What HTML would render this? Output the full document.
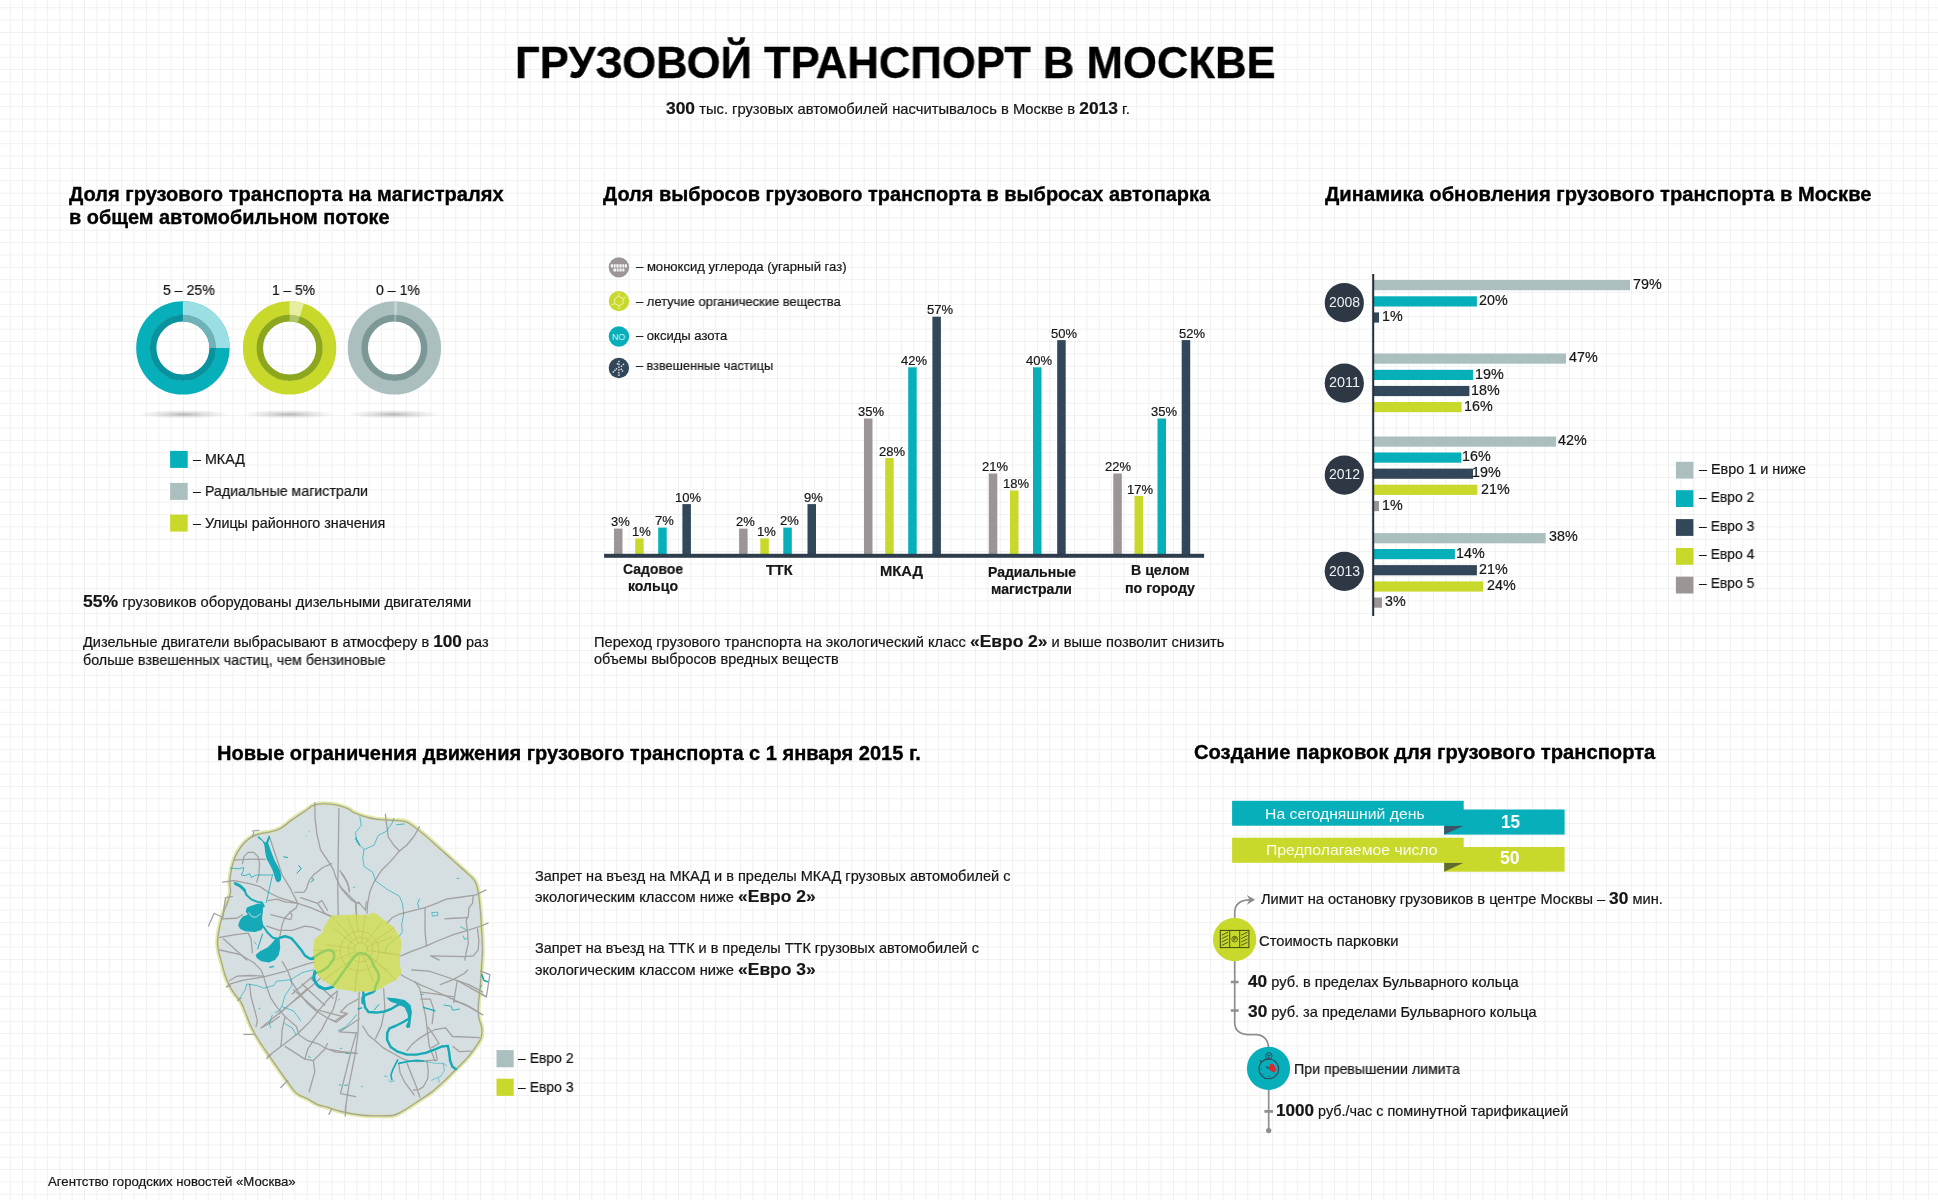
<!DOCTYPE html>
<html lang="ru">
<head>
<meta charset="utf-8">
<title>Грузовой транспорт в Москве</title>
<style>
html,body{margin:0;padding:0;background:#fff;}
body{width:1938px;height:1200px;overflow:hidden;font-family:"Liberation Sans",sans-serif;color:#161616;}
#page{position:relative;width:1938px;height:1200px;overflow:hidden;background-color:#fff;
background-image:linear-gradient(to right,#f0f0f0 0,#f0f0f0 1.2px,transparent 1.2px),linear-gradient(to bottom,#f0f0f0 0,#f0f0f0 1.2px,transparent 1.2px);
background-size:12.387px 12.362px;background-position:9.8px 7.3px;}
.t{position:absolute;white-space:nowrap;line-height:20px;transform-origin:0 50%;will-change:transform;}
.t b{font-weight:bold;}
.h{-webkit-text-stroke:0.35px #000;}
.n{-webkit-text-stroke:0.2px #161616;}
.abs{position:absolute;}
svg{position:absolute;left:0;top:0;overflow:visible;}
</style>
</head>
<body>
<div id="page">
<svg width="1938" height="1200" viewBox="0 0 1938 1200"><defs><radialGradient id="sh"><stop offset="0" stop-color="#000" stop-opacity="0.28"/><stop offset="0.45" stop-color="#000" stop-opacity="0.12"/><stop offset="1" stop-color="#000" stop-opacity="0"/></radialGradient></defs><ellipse cx="184" cy="414.3" rx="46" ry="4.4" fill="url(#sh)"/><ellipse cx="288.6" cy="414.3" rx="46" ry="4.4" fill="url(#sh)"/><ellipse cx="393.8" cy="414.3" rx="46" ry="4.4" fill="url(#sh)"/><g transform="translate(182.9 347.9) rotate(-90)" fill="none"><circle r="39.75" stroke="#06afba" stroke-width="13.90"/><circle r="29.80" stroke="#07929d" stroke-width="6.60"/><circle r="39.75" stroke="#9bdfe4" stroke-width="13.90" stroke-dasharray="62.44 249.76"/><circle r="29.80" stroke="#6fb3b9" stroke-width="6.60" stroke-dasharray="46.81 187.24"/></g><g transform="translate(289.6 347.9) rotate(-90)" fill="none"><circle r="39.75" stroke="#c8d92b" stroke-width="13.90"/><circle r="29.80" stroke="#8ca71d" stroke-width="6.60"/><circle r="39.75" stroke="#e6eea0" stroke-width="13.90" stroke-dasharray="12.49 249.76"/><circle r="29.80" stroke="#b3c56a" stroke-width="6.60" stroke-dasharray="9.36 187.24"/></g><g transform="translate(394.4 347.9) rotate(-90)" fill="none"><circle r="39.75" stroke="#abbfbf" stroke-width="13.90"/><circle r="29.80" stroke="#7b9796" stroke-width="6.60"/><circle r="39.75" stroke="#c9d6d6" stroke-width="13.90" stroke-dasharray="2.50 249.76"/><circle r="29.80" stroke="#9fb5b4" stroke-width="6.60" stroke-dasharray="1.87 187.24"/></g><rect x="170.1" y="450.9" width="17.6" height="17" fill="#06afba"/><rect x="170.1" y="482.9" width="17.6" height="17" fill="#abbfbf"/><rect x="170.1" y="514.6" width="17.6" height="17" fill="#c8d92b"/></svg>
<svg width="1938" height="1200" viewBox="0 0 1938 1200"><rect x="614.0" y="528.6" width="8.5" height="26.4" fill="#9b9595"/><rect x="635.2" y="538.4" width="8.5" height="16.6" fill="#c8d92b"/><rect x="658.2" y="527.6" width="8.5" height="27.4" fill="#06afba"/><rect x="682.4" y="504.1" width="8.5" height="50.9" fill="#32475a"/><rect x="739.1" y="528.6" width="8.5" height="26.4" fill="#9b9595"/><rect x="760.3" y="538.4" width="8.5" height="16.6" fill="#c8d92b"/><rect x="783.3" y="527.6" width="8.5" height="27.4" fill="#06afba"/><rect x="807.5" y="504.1" width="8.5" height="50.9" fill="#32475a"/><rect x="864.0" y="418.5" width="8.5" height="136.5" fill="#9b9595"/><rect x="885.2" y="458.0" width="8.5" height="97.0" fill="#c8d92b"/><rect x="908.2" y="367.3" width="8.5" height="187.7" fill="#06afba"/><rect x="932.4" y="316.7" width="8.5" height="238.3" fill="#32475a"/><rect x="988.8" y="473.5" width="8.5" height="81.5" fill="#9b9595"/><rect x="1010.0" y="490.5" width="8.5" height="64.5" fill="#c8d92b"/><rect x="1033.0" y="367.3" width="8.5" height="187.7" fill="#06afba"/><rect x="1057.2" y="340.1" width="8.5" height="214.9" fill="#32475a"/><rect x="1113.3" y="473.5" width="8.5" height="81.5" fill="#9b9595"/><rect x="1134.5" y="495.9" width="8.5" height="59.1" fill="#c8d92b"/><rect x="1157.5" y="418.5" width="8.5" height="136.5" fill="#06afba"/><rect x="1181.7" y="340.1" width="8.5" height="214.9" fill="#32475a"/><rect x="604.1" y="553.8" width="600" height="4" fill="#2e3d4b"/><circle cx="618.9" cy="267.4" r="10.2" fill="#9b9595"/><circle cx="618.9" cy="301.1" r="10.2" fill="#c8d92b"/><circle cx="618.9" cy="336.5" r="10.2" fill="#06afba"/><circle cx="618.9" cy="368.0" r="10.2" fill="#32475a"/><g fill="#fff" opacity="0.9"><rect x="610.8" y="264.2" width="16.2" height="3.2" rx="0.6"/><rect x="613.4" y="268.6" width="11" height="3" rx="0.6"/></g><g stroke="#9b9595" stroke-width="0.7"><path d="M613.5 264v4M616 264v4M619 264v8M622 264v8M624.5 264v4M616.5 268v4"/></g><g stroke="#f1f5b8" stroke-width="0.9" fill="none"><polygon points="623.1,303.5 618.9,305.9 614.7,303.5 614.7,298.7 618.9,296.3 623.1,298.7"/><path d="M623.1 298.7L626.1 297.0"/><path d="M618.9 305.9L618.9 309.4"/><path d="M614.7 303.5L611.7 305.2"/><path d="M618.9 296.3L618.9 292.8"/></g><g fill="#e9eef2"><rect x="618.2" y="360.8" width="1.4" height="1.4"/><rect x="618.2" y="363.7" width="1.4" height="1.4"/><rect x="618.2" y="366.5" width="1.4" height="1.4"/><rect x="618.2" y="369.3" width="1.4" height="1.4"/><rect x="618.2" y="372.1" width="1.4" height="1.4"/><rect x="618.2" y="374.5" width="1.4" height="1.4"/><rect x="620.8" y="365.5" width="1.4" height="1.4"/><rect x="622.8" y="363.7" width="1.4" height="1.4"/><rect x="620.6" y="368.5" width="1.4" height="1.4"/><rect x="615.8" y="368.1" width="1.4" height="1.4"/><rect x="614.2" y="369.7" width="1.4" height="1.4"/><rect x="612.6" y="371.3" width="1.4" height="1.4"/><rect x="616.8" y="363.1" width="1.4" height="1.4"/><rect x="621.8" y="370.3" width="1.4" height="1.4"/></g></svg>
<svg width="1938" height="1200" viewBox="0 0 1938 1200"><rect x="1374.0" y="280.0" width="256.0" height="10.2" fill="#abbfbf"/><rect x="1374.0" y="296.3" width="102.9" height="10.2" fill="#06afba"/><rect x="1374.0" y="312.4" width="5.0" height="10.2" fill="#32475a"/><rect x="1374.0" y="353.5" width="192.0" height="10.2" fill="#abbfbf"/><rect x="1374.0" y="369.8" width="99.0" height="10.2" fill="#06afba"/><rect x="1374.0" y="385.9" width="95.4" height="10.2" fill="#32475a"/><rect x="1374.0" y="402.0" width="87.6" height="10.2" fill="#c8d92b"/><rect x="1374.0" y="436.5" width="182.1" height="10.2" fill="#abbfbf"/><rect x="1374.0" y="452.5" width="87.4" height="10.2" fill="#06afba"/><rect x="1374.0" y="468.6" width="99.0" height="10.2" fill="#32475a"/><rect x="1374.0" y="484.7" width="103.3" height="10.2" fill="#c8d92b"/><rect x="1374.0" y="501.0" width="5.0" height="10.2" fill="#9b9595"/><rect x="1374.0" y="533.1" width="171.7" height="10.2" fill="#abbfbf"/><rect x="1374.0" y="549.0" width="80.9" height="10.2" fill="#06afba"/><rect x="1374.0" y="565.1" width="102.9" height="10.2" fill="#32475a"/><rect x="1374.0" y="581.4" width="109.1" height="10.2" fill="#c8d92b"/><rect x="1374.0" y="597.5" width="8.0" height="10.2" fill="#9b9595"/><rect x="1372.2" y="274" width="2" height="342" fill="#232f3a"/><circle cx="1344.3" cy="302.7" r="19.6" fill="#2d3844"/><circle cx="1344.3" cy="383.2" r="19.6" fill="#2d3844"/><circle cx="1344.3" cy="475.1" r="19.6" fill="#2d3844"/><circle cx="1344.3" cy="571.3" r="19.6" fill="#2d3844"/><rect x="1675.9" y="461.8" width="17.5" height="16.8" fill="#abbfbf"/><rect x="1675.9" y="490.2" width="17.5" height="16.8" fill="#06afba"/><rect x="1675.9" y="519.1" width="17.5" height="16.8" fill="#32475a"/><rect x="1675.9" y="548.0" width="17.5" height="16.8" fill="#c8d92b"/><rect x="1675.9" y="576.7" width="17.5" height="16.8" fill="#9b9595"/></svg>
<svg width="1938" height="1200" viewBox="0 0 1938 1200"><rect x="1444.2" y="809.5" width="120.4" height="25.1" fill="#06afba"/><polygon points="1444.2,825.7 1463.7,825.7 1444.2,834.6" fill="#3b5467"/><rect x="1232.1" y="800.8" width="231.6" height="24.9" fill="#06afba"/><rect x="1444.2" y="847" width="120.4" height="24.7" fill="#c8d92b"/><polygon points="1444.2,862.8 1463.7,862.8 1444.2,871.7" fill="#5f6c2c"/><rect x="1232.1" y="837.7" width="231.6" height="25.1" fill="#c8d92b"/><g fill="none" stroke="#8f8f8f" stroke-width="1.7"><path d="M1234.7 919V913C1234.7 904.5 1240 900 1250 899.9"/><path d="M1234.7 960V1022.3C1234.7 1030.5 1239.5 1034.6 1249 1034.6H1256C1263.5 1034.8 1268.5 1040 1268.5 1048"/><path d="M1268.7 1089V1130"/></g><g stroke="#8f8f8f" stroke-width="2.6"><path d="M1230.8 982H1238.6M1230.8 1010.5H1238.6M1264.4 1111.4H1273"/></g><polygon points="1255.2,899.8 1246.8,895 1249.6,899.8 1246.8,904.7" fill="#8f8f8f"/><circle cx="1268.7" cy="1130.6" r="2.7" fill="#8f8f8f"/><circle cx="1234.6" cy="939.5" r="21.7" fill="#c8d92b"/><circle cx="1268.5" cy="1068.4" r="21.6" fill="#06afba"/><g fill="none" stroke="#3d4b14" stroke-width="1"><rect x="1220.3" y="930.4" width="28.6" height="17.2"/><path d="M1229.7 930.4V947.6M1239.7 930.4V947.6"/><path d="M1221.8 935.2L1228.2 932M1221.8 938.6L1228.2 935.4M1221.8 942L1228.2 938.8M1221.8 945.4L1228.2 942.2M1241.2 935.2L1247.6 932M1241.2 938.6L1247.6 935.4M1241.2 942L1247.6 938.8M1241.2 945.4L1247.6 942.2" stroke-width="0.9"/><circle cx="1234.7" cy="939.1" r="2.9" stroke-width="0.7"/><path d="M1233.9 941V937.2H1235.2A1 1 0 0 1 1235.2 939.2H1233.9" stroke-width="0.8"/></g><g fill="none" stroke="#2f4253" stroke-width="1.1"><circle cx="1268.8" cy="1068.8" r="9.9"/><circle cx="1268.8" cy="1055.9" r="3.2" stroke-width="0.9"/><path d="M1267.2 1055.2H1270.4M1268.8 1055.2V1058.6" stroke-width="0.9"/><path d="M1261.2 1061.8L1259.8 1060.4" /><path d="M1268.8 1068.8L1266.4 1066.4" stroke-width="1.3"/><path d="M1268.8 1077V1075.6M1260.6 1068.8H1262M1263 1074.6L1264 1073.6M1274.6 1074.6L1273.6 1073.6" stroke-width="0.8"/></g><path d="M1268.6 1069L1270.3 1063.7L1273.7 1064.3L1276.3 1070L1273.9 1072.8Z" fill="#e3262e"/></svg>
<svg width="1938" height="1200" viewBox="0 0 1938 1200"><defs><clipPath id="mk"><path d="M314.8 804.9C319.6 803.6 325.9 803.6 331.8 804.2C337.7 804.8 343.4 806.9 347.4 808.4C351.4 809.9 350.4 811.0 354.2 812.7C358.0 814.4 363.2 816.3 368.3 817.6C373.4 818.9 377.4 819.3 382.5 819.8C387.6 820.3 392.4 820.1 396.7 820.5C401.0 820.9 403.3 820.6 406.6 821.9C409.9 823.2 411.8 825.2 415.1 827.6C418.4 830.0 420.7 831.7 425.0 835.4C429.3 839.1 434.1 843.5 439.2 848.1C444.3 852.7 448.3 856.3 453.4 860.9C458.5 865.5 463.8 870.0 467.6 873.6C471.4 877.2 472.7 877.4 474.6 880.7C476.5 884.0 477.2 886.6 478.2 892.0C479.2 897.4 479.7 903.4 480.3 910.5C480.9 917.6 481.3 924.6 481.7 931.7C482.1 938.8 482.4 944.1 482.4 950.0C482.4 955.9 482.1 957.8 481.7 964.2C481.3 970.6 480.9 977.8 480.3 985.4C479.7 993.0 478.5 1000.8 478.2 1006.7C477.9 1012.6 478.3 1014.2 478.9 1018.0C479.5 1021.8 481.3 1024.3 481.7 1027.9C482.1 1031.5 482.0 1034.6 481.0 1037.9C480.0 1041.2 478.4 1042.8 476.0 1046.4C473.6 1050.0 471.1 1053.6 467.5 1057.7C463.9 1061.8 460.3 1064.9 456.2 1069.0C452.1 1073.1 449.2 1076.3 444.9 1080.4C440.6 1084.5 436.7 1088.1 432.1 1091.7C427.5 1095.3 424.0 1097.1 419.4 1100.2C414.8 1103.3 411.2 1106.0 406.6 1108.7C402.0 1111.4 398.7 1113.8 393.9 1115.1C389.1 1116.4 385.6 1115.8 379.7 1115.8C373.8 1115.8 368.1 1115.9 361.3 1115.1C354.5 1114.3 347.8 1113.0 341.7 1111.6C335.6 1110.2 331.9 1108.6 327.6 1107.3C323.3 1106.0 321.2 1106.0 317.6 1104.5C314.0 1103.0 311.5 1100.9 307.7 1098.8C303.9 1096.7 300.2 1096.4 296.4 1093.1C292.6 1089.8 290.1 1085.2 286.5 1080.4C282.9 1075.6 280.1 1071.3 276.5 1066.2C272.9 1061.1 269.9 1056.8 266.6 1052.0C263.3 1047.2 260.9 1043.9 258.1 1039.3C255.3 1034.7 253.3 1031.3 251.0 1026.5C248.7 1021.7 247.2 1016.7 245.4 1012.4C243.6 1008.1 243.4 1006.2 241.1 1002.4C238.8 998.6 235.3 995.4 232.6 991.1C229.9 986.8 228.2 983.7 226.2 978.3C224.2 972.9 222.7 966.4 221.3 961.3C219.9 956.2 219.0 953.8 218.4 950.0C217.8 946.2 217.4 944.5 217.7 940.2C218.0 935.9 218.8 930.9 219.8 926.1C220.8 921.3 222.0 917.6 223.4 913.3C224.8 909.0 226.3 905.8 227.6 902.0C228.9 898.2 230.1 895.6 230.5 892.0C230.9 888.4 229.7 885.9 229.8 882.1C229.9 878.3 230.3 875.1 231.2 870.8C232.1 866.5 232.9 862.3 234.7 858.0C236.5 853.7 238.4 850.3 241.1 846.7C243.8 843.1 246.3 840.5 249.6 838.2C252.9 835.9 255.7 835.1 259.5 833.9C263.3 832.7 267.1 832.8 270.9 831.8C274.7 830.8 277.0 830.5 280.8 828.3C284.6 826.1 287.8 822.9 292.1 819.8C296.4 816.7 300.8 814.0 304.9 811.3C309.0 808.6 310.0 806.2 314.8 804.9Z"/></clipPath></defs><path d="M314.8 804.9C319.6 803.6 325.9 803.6 331.8 804.2C337.7 804.8 343.4 806.9 347.4 808.4C351.4 809.9 350.4 811.0 354.2 812.7C358.0 814.4 363.2 816.3 368.3 817.6C373.4 818.9 377.4 819.3 382.5 819.8C387.6 820.3 392.4 820.1 396.7 820.5C401.0 820.9 403.3 820.6 406.6 821.9C409.9 823.2 411.8 825.2 415.1 827.6C418.4 830.0 420.7 831.7 425.0 835.4C429.3 839.1 434.1 843.5 439.2 848.1C444.3 852.7 448.3 856.3 453.4 860.9C458.5 865.5 463.8 870.0 467.6 873.6C471.4 877.2 472.7 877.4 474.6 880.7C476.5 884.0 477.2 886.6 478.2 892.0C479.2 897.4 479.7 903.4 480.3 910.5C480.9 917.6 481.3 924.6 481.7 931.7C482.1 938.8 482.4 944.1 482.4 950.0C482.4 955.9 482.1 957.8 481.7 964.2C481.3 970.6 480.9 977.8 480.3 985.4C479.7 993.0 478.5 1000.8 478.2 1006.7C477.9 1012.6 478.3 1014.2 478.9 1018.0C479.5 1021.8 481.3 1024.3 481.7 1027.9C482.1 1031.5 482.0 1034.6 481.0 1037.9C480.0 1041.2 478.4 1042.8 476.0 1046.4C473.6 1050.0 471.1 1053.6 467.5 1057.7C463.9 1061.8 460.3 1064.9 456.2 1069.0C452.1 1073.1 449.2 1076.3 444.9 1080.4C440.6 1084.5 436.7 1088.1 432.1 1091.7C427.5 1095.3 424.0 1097.1 419.4 1100.2C414.8 1103.3 411.2 1106.0 406.6 1108.7C402.0 1111.4 398.7 1113.8 393.9 1115.1C389.1 1116.4 385.6 1115.8 379.7 1115.8C373.8 1115.8 368.1 1115.9 361.3 1115.1C354.5 1114.3 347.8 1113.0 341.7 1111.6C335.6 1110.2 331.9 1108.6 327.6 1107.3C323.3 1106.0 321.2 1106.0 317.6 1104.5C314.0 1103.0 311.5 1100.9 307.7 1098.8C303.9 1096.7 300.2 1096.4 296.4 1093.1C292.6 1089.8 290.1 1085.2 286.5 1080.4C282.9 1075.6 280.1 1071.3 276.5 1066.2C272.9 1061.1 269.9 1056.8 266.6 1052.0C263.3 1047.2 260.9 1043.9 258.1 1039.3C255.3 1034.7 253.3 1031.3 251.0 1026.5C248.7 1021.7 247.2 1016.7 245.4 1012.4C243.6 1008.1 243.4 1006.2 241.1 1002.4C238.8 998.6 235.3 995.4 232.6 991.1C229.9 986.8 228.2 983.7 226.2 978.3C224.2 972.9 222.7 966.4 221.3 961.3C219.9 956.2 219.0 953.8 218.4 950.0C217.8 946.2 217.4 944.5 217.7 940.2C218.0 935.9 218.8 930.9 219.8 926.1C220.8 921.3 222.0 917.6 223.4 913.3C224.8 909.0 226.3 905.8 227.6 902.0C228.9 898.2 230.1 895.6 230.5 892.0C230.9 888.4 229.7 885.9 229.8 882.1C229.9 878.3 230.3 875.1 231.2 870.8C232.1 866.5 232.9 862.3 234.7 858.0C236.5 853.7 238.4 850.3 241.1 846.7C243.8 843.1 246.3 840.5 249.6 838.2C252.9 835.9 255.7 835.1 259.5 833.9C263.3 832.7 267.1 832.8 270.9 831.8C274.7 830.8 277.0 830.5 280.8 828.3C284.6 826.1 287.8 822.9 292.1 819.8C296.4 816.7 300.8 814.0 304.9 811.3C309.0 808.6 310.0 806.2 314.8 804.9Z" fill="#d5dfe1" stroke="#e3e9b0" stroke-width="5" stroke-linejoin="round"/><path d="M314.8 804.9C319.6 803.6 325.9 803.6 331.8 804.2C337.7 804.8 343.4 806.9 347.4 808.4C351.4 809.9 350.4 811.0 354.2 812.7C358.0 814.4 363.2 816.3 368.3 817.6C373.4 818.9 377.4 819.3 382.5 819.8C387.6 820.3 392.4 820.1 396.7 820.5C401.0 820.9 403.3 820.6 406.6 821.9C409.9 823.2 411.8 825.2 415.1 827.6C418.4 830.0 420.7 831.7 425.0 835.4C429.3 839.1 434.1 843.5 439.2 848.1C444.3 852.7 448.3 856.3 453.4 860.9C458.5 865.5 463.8 870.0 467.6 873.6C471.4 877.2 472.7 877.4 474.6 880.7C476.5 884.0 477.2 886.6 478.2 892.0C479.2 897.4 479.7 903.4 480.3 910.5C480.9 917.6 481.3 924.6 481.7 931.7C482.1 938.8 482.4 944.1 482.4 950.0C482.4 955.9 482.1 957.8 481.7 964.2C481.3 970.6 480.9 977.8 480.3 985.4C479.7 993.0 478.5 1000.8 478.2 1006.7C477.9 1012.6 478.3 1014.2 478.9 1018.0C479.5 1021.8 481.3 1024.3 481.7 1027.9C482.1 1031.5 482.0 1034.6 481.0 1037.9C480.0 1041.2 478.4 1042.8 476.0 1046.4C473.6 1050.0 471.1 1053.6 467.5 1057.7C463.9 1061.8 460.3 1064.9 456.2 1069.0C452.1 1073.1 449.2 1076.3 444.9 1080.4C440.6 1084.5 436.7 1088.1 432.1 1091.7C427.5 1095.3 424.0 1097.1 419.4 1100.2C414.8 1103.3 411.2 1106.0 406.6 1108.7C402.0 1111.4 398.7 1113.8 393.9 1115.1C389.1 1116.4 385.6 1115.8 379.7 1115.8C373.8 1115.8 368.1 1115.9 361.3 1115.1C354.5 1114.3 347.8 1113.0 341.7 1111.6C335.6 1110.2 331.9 1108.6 327.6 1107.3C323.3 1106.0 321.2 1106.0 317.6 1104.5C314.0 1103.0 311.5 1100.9 307.7 1098.8C303.9 1096.7 300.2 1096.4 296.4 1093.1C292.6 1089.8 290.1 1085.2 286.5 1080.4C282.9 1075.6 280.1 1071.3 276.5 1066.2C272.9 1061.1 269.9 1056.8 266.6 1052.0C263.3 1047.2 260.9 1043.9 258.1 1039.3C255.3 1034.7 253.3 1031.3 251.0 1026.5C248.7 1021.7 247.2 1016.7 245.4 1012.4C243.6 1008.1 243.4 1006.2 241.1 1002.4C238.8 998.6 235.3 995.4 232.6 991.1C229.9 986.8 228.2 983.7 226.2 978.3C224.2 972.9 222.7 966.4 221.3 961.3C219.9 956.2 219.0 953.8 218.4 950.0C217.8 946.2 217.4 944.5 217.7 940.2C218.0 935.9 218.8 930.9 219.8 926.1C220.8 921.3 222.0 917.6 223.4 913.3C224.8 909.0 226.3 905.8 227.6 902.0C228.9 898.2 230.1 895.6 230.5 892.0C230.9 888.4 229.7 885.9 229.8 882.1C229.9 878.3 230.3 875.1 231.2 870.8C232.1 866.5 232.9 862.3 234.7 858.0C236.5 853.7 238.4 850.3 241.1 846.7C243.8 843.1 246.3 840.5 249.6 838.2C252.9 835.9 255.7 835.1 259.5 833.9C263.3 832.7 267.1 832.8 270.9 831.8C274.7 830.8 277.0 830.5 280.8 828.3C284.6 826.1 287.8 822.9 292.1 819.8C296.4 816.7 300.8 814.0 304.9 811.3C309.0 808.6 310.0 806.2 314.8 804.9Z" fill="#d5dfe1" stroke="#d5de8c" stroke-width="2.4" stroke-linejoin="round"/><g fill="none" stroke="#a3a0a0" stroke-linejoin="round" stroke-linecap="round"><g transform="translate(200 790) scale(0.14172)" stroke-width="9.03"><path d="M810 90L812 200L825 310L850 420L910 510L940 560L960 620L1000 700L1060 770L1100 795L1105 880"/><path d="M980 130L978 300L975 500L972 700L975 880"/><path d="M490 330L530 450L580 600L640 700L690 800"/><path d="M160 650L240 640L350 660L420 680L480 720L560 760L690 800L780 830L850 860L920 890"/><path d="M690 800L680 830L640 860L600 900L580 950L570 1000L560 1050L555 1100"/><path d="M930 520L870 545L800 600L770 640L750 700L735 720L670 722"/><path d="M240 495L330 490L400 488L460 490"/><path d="M300 520L310 470L340 440L380 440L410 470L420 520L415 600L400 650"/><path d="M60 960L100 870L160 900L180 760L230 750"/><path d="M150 910L260 905L300 880"/><path d="M140 1040L250 1020L340 1010L360 1050L370 1150"/><path d="M165 1050L330 1200"/><path d="M480 780L540 770L600 790L690 800"/><path d="M500 880L580 900L640 915L650 880L630 860"/><path d="M470 960L560 990L650 990L740 960L800 970L850 990"/><path d="M710 760L830 800L880 870L920 890M830 800L860 780L900 850"/><path d="M1000 590L1040 650L1055 710"/><path d="M370 290L415 285M370 330L380 300"/></g><g transform="translate(340 790) scale(0.14172)" stroke-width="9.03"><path d="M320 170L330 250L340 330L380 390L420 430"/><path d="M560 260L520 330L470 390L420 430L360 500L290 570L240 650L210 720L195 800L190 870"/><path d="M1030 705L960 740L860 755L750 770L680 800L600 830L500 855L420 875L370 900L330 940"/><path d="M1045 940L980 965L900 990L800 1020L700 1060L610 1100L500 1140L430 1170"/><path d="M600 830L600 1000L610 1100"/><path d="M940 745L935 800L910 830L905 890L890 920L900 1000L905 1080L890 1150L880 1200"/><path d="M740 910L800 905L900 900"/><path d="M970 980L980 1060L975 1130L940 1170L880 1175L640 1170L700 1200"/><path d="M110 790L115 870M130 790L180 850L185 790"/><path d="M0 570L30 610L60 680L65 720M0 680L60 740L110 790L130 800"/></g><g transform="translate(200 950) scale(0.14172)" stroke-width="9.03"><path d="M190 260L210 240L300 215L450 190L600 150L750 100L810 85"/><path d="M210 215L260 185L360 180L440 185L450 190"/><path d="M140 0L280 30L380 90L430 140L450 190L470 260L500 340L540 400L600 470L680 540L700 600L760 640L830 660L880 690L960 720L1060 725L1110 730"/><path d="M580 80L620 150L650 230L690 290L760 380L820 430L900 480L960 510L1040 450"/><path d="M650 310L790 190M690 340L850 200M560 450L760 270M430 550L700 330"/><path d="M660 280L820 420L1010 470M720 240L880 390M780 200L940 340"/><path d="M480 750L600 660L700 580L780 500L860 400L920 330L970 290"/><path d="M570 970L620 920M470 765L500 740M185 260L215 250M265 355L290 340"/><path d="M600 680L740 770L800 780L830 750L880 700L900 660"/><path d="M800 780L810 860L790 930L770 1000"/><path d="M350 240L360 330L390 440L405 500L395 540"/><path d="M310 595L380 595"/><path d="M440 545L520 500L560 470"/><path d="M600 470L580 560L575 640L570 680"/><path d="M970 290L960 350L940 420L900 480L860 560L800 640L760 700L740 770"/><path d="M910 1160L930 1120M1025 1170L1030 1100"/></g><g transform="translate(330 970) scale(0.11669)" stroke-width="10.97"><path d="M610 40L640 60L780 130L900 180L1050 250L1200 320L1310 385"/><path d="M700 0L850 10L1000 60L1100 95L1340 230"/><path d="M730 100L770 160L790 260L820 400L830 480L850 650L900 780L920 770L905 700"/><path d="M460 160L470 330L440 480L390 590"/><path d="M250 190L245 400L240 540L220 700L200 800L160 1000L130 1200"/><path d="M225 540L180 700L130 900L90 1060L220 1085"/><path d="M280 480L330 560L380 600L460 670L550 720L620 760L680 780L760 785L900 770"/><path d="M660 690L700 640L760 590L830 545L900 510L990 495L1050 570L1280 580"/><path d="M590 800L600 880L640 960L720 1070"/><path d="M660 800L700 900L740 1000L770 1090"/><path d="M830 780L842 860L838 930L800 1000L760 1025L715 1030"/><path d="M1060 280L1090 90L1190 125L1310 190"/><path d="M1060 265L1150 290L1250 345"/><path d="M1290 10L1370 40L1340 230L1290 200"/><path d="M780 190L900 205L1060 230"/><path d="M780 250L860 250L890 340L875 460"/><path d="M840 490L890 560L935 630L870 665"/><path d="M1055 655L1110 700L1210 695"/><path d="M945 125L1060 80L1150 30L1180 0"/><path d="M240 250L150 300L90 360L140 370L40 440L0 420"/><path d="M250 420L160 480L80 530L230 540"/><path d="M0 680L100 700L230 715"/></g><g stroke-width="0.9"><ellipse cx="359.5" cy="951" rx="19.3" ry="20"/><circle cx="360.5" cy="949.5" r="12.4"/><circle cx="361" cy="949" r="6.5"/><path d="M366.9 950.4L394.2 954.2"/><path d="M365.6 953.5L387.3 970.4"/><path d="M362.9 955.5L373.2 981.0"/><path d="M359.6 955.9L355.8 983.2"/><path d="M356.5 954.6L339.6 976.3"/><path d="M354.5 951.9L329.0 962.2"/><path d="M354.1 948.6L326.8 944.8"/><path d="M355.4 945.5L333.7 928.6"/><path d="M358.1 943.5L347.8 918.0"/><path d="M361.4 943.1L365.2 915.8"/><path d="M364.5 944.4L381.4 922.7"/><path d="M366.5 947.1L392.0 936.8"/><path d="M331 915.5L352 938M394 927.5L372 943M396 980L372 958M323 980.5L348 962M356 914.5L358 930M355 991.5L357 971M313.5 950L340 951M400 955L380 952"/></g></g><path d="M314.8 804.9C319.6 803.6 325.9 803.6 331.8 804.2C337.7 804.8 343.4 806.9 347.4 808.4C351.4 809.9 350.4 811.0 354.2 812.7C358.0 814.4 363.2 816.3 368.3 817.6C373.4 818.9 377.4 819.3 382.5 819.8C387.6 820.3 392.4 820.1 396.7 820.5C401.0 820.9 403.3 820.6 406.6 821.9C409.9 823.2 411.8 825.2 415.1 827.6C418.4 830.0 420.7 831.7 425.0 835.4C429.3 839.1 434.1 843.5 439.2 848.1C444.3 852.7 448.3 856.3 453.4 860.9C458.5 865.5 463.8 870.0 467.6 873.6C471.4 877.2 472.7 877.4 474.6 880.7C476.5 884.0 477.2 886.6 478.2 892.0C479.2 897.4 479.7 903.4 480.3 910.5C480.9 917.6 481.3 924.6 481.7 931.7C482.1 938.8 482.4 944.1 482.4 950.0C482.4 955.9 482.1 957.8 481.7 964.2C481.3 970.6 480.9 977.8 480.3 985.4C479.7 993.0 478.5 1000.8 478.2 1006.7C477.9 1012.6 478.3 1014.2 478.9 1018.0C479.5 1021.8 481.3 1024.3 481.7 1027.9C482.1 1031.5 482.0 1034.6 481.0 1037.9C480.0 1041.2 478.4 1042.8 476.0 1046.4C473.6 1050.0 471.1 1053.6 467.5 1057.7C463.9 1061.8 460.3 1064.9 456.2 1069.0C452.1 1073.1 449.2 1076.3 444.9 1080.4C440.6 1084.5 436.7 1088.1 432.1 1091.7C427.5 1095.3 424.0 1097.1 419.4 1100.2C414.8 1103.3 411.2 1106.0 406.6 1108.7C402.0 1111.4 398.7 1113.8 393.9 1115.1C389.1 1116.4 385.6 1115.8 379.7 1115.8C373.8 1115.8 368.1 1115.9 361.3 1115.1C354.5 1114.3 347.8 1113.0 341.7 1111.6C335.6 1110.2 331.9 1108.6 327.6 1107.3C323.3 1106.0 321.2 1106.0 317.6 1104.5C314.0 1103.0 311.5 1100.9 307.7 1098.8C303.9 1096.7 300.2 1096.4 296.4 1093.1C292.6 1089.8 290.1 1085.2 286.5 1080.4C282.9 1075.6 280.1 1071.3 276.5 1066.2C272.9 1061.1 269.9 1056.8 266.6 1052.0C263.3 1047.2 260.9 1043.9 258.1 1039.3C255.3 1034.7 253.3 1031.3 251.0 1026.5C248.7 1021.7 247.2 1016.7 245.4 1012.4C243.6 1008.1 243.4 1006.2 241.1 1002.4C238.8 998.6 235.3 995.4 232.6 991.1C229.9 986.8 228.2 983.7 226.2 978.3C224.2 972.9 222.7 966.4 221.3 961.3C219.9 956.2 219.0 953.8 218.4 950.0C217.8 946.2 217.4 944.5 217.7 940.2C218.0 935.9 218.8 930.9 219.8 926.1C220.8 921.3 222.0 917.6 223.4 913.3C224.8 909.0 226.3 905.8 227.6 902.0C228.9 898.2 230.1 895.6 230.5 892.0C230.9 888.4 229.7 885.9 229.8 882.1C229.9 878.3 230.3 875.1 231.2 870.8C232.1 866.5 232.9 862.3 234.7 858.0C236.5 853.7 238.4 850.3 241.1 846.7C243.8 843.1 246.3 840.5 249.6 838.2C252.9 835.9 255.7 835.1 259.5 833.9C263.3 832.7 267.1 832.8 270.9 831.8C274.7 830.8 277.0 830.5 280.8 828.3C284.6 826.1 287.8 822.9 292.1 819.8C296.4 816.7 300.8 814.0 304.9 811.3C309.0 808.6 310.0 806.2 314.8 804.9Z" fill="none" stroke="#a3a0a0" stroke-width="1.1"/><g fill="none" stroke="#16a9b8" stroke-linejoin="round" stroke-linecap="round"><g transform="translate(220 820) scale(0.125)"><path d="M340 170L355 200L362 260L372 310L395 350L420 400L435 450L448 490L470 498L488 480L490 445L478 400L462 368L440 330L420 280L400 225L385 185L400 140L392 120L372 170L362 182L310 130L298 138Z" fill="#16a9b8" stroke="none"/><path d="M122 508L160 527L195 560" stroke-width="24"/><path d="M195 560L212 600L250 635L300 655L335 660L350 690" stroke-width="16"/><path d="M215 700L250 685L300 670L335 665L346 700L342 740L336 790L348 850L332 880L280 895L200 890L160 870L145 840L160 800L185 770L222 758L205 730Z" fill="#16a9b8" stroke="none"/><path d="M232 742L252 772L288 778L322 752" stroke="#d5dfe1" stroke-width="7"/><path d="M345 850L380 900L420 940L452 950" stroke-width="16"/><path d="M452 938L476 960L482 1020L470 1080L440 1120L390 1140L330 1130L295 1105L285 1080L320 1050L380 1020L420 980Z" fill="#16a9b8" stroke="none"/><path d="M470 945L520 930L570 945L610 990L650 1040L680 1085L720 1110L750 1110" stroke-width="19"/><path d="M340 912L302 1030" stroke-width="8"/><path d="M275 975L290 995" stroke-width="5"/><path d="M420 440L370 660" stroke-width="6.5"/><path d="M85 385L150 390L190 380L185 410L170 440L200 445L240 430L250 460L290 440L420 440" stroke-width="6"/><path d="M510 295L540 300M630 365L650 390L615 425M740 465L750 480L730 495" stroke-width="8"/><path d="M690 125L692 128M710 88L712 91M400 1175L430 1168" stroke-width="6"/></g><g transform="translate(340 790) scale(0.14172)"><path d="M140 190L150 250L110 300L120 370L170 420L160 480L170 540L230 580L250 640L330 700L420 750L440 800L450 870L435 950L440 1000L420 1030L380 1060L330 1100L320 1140" stroke-width="4.6"/><path d="M170 420L240 390L270 320L330 290L370 230L380 200" stroke-width="4.6"/><path d="M110 340L140 390" stroke-width="9"/><path d="M560 770L548 800L555 830M400 245L455 240" stroke-width="5"/><path d="M650 865L690 862L690 885L655 890Z M850 965L890 985M870 1030L880 1055L900 1045M825 623L840 625M95 687L105 685" stroke-width="4.6"/></g><g transform="translate(200 950) scale(0.14172)"><path d="M280 340L320 280L330 240L400 250L450 270L520 250L540 220L640 210L720 160L800 140" stroke-width="4.6"/><path d="M640 215L650 250L600 320L580 390L560 430L530 440M580 400L660 430L690 470L710 500M600 520L650 550L680 600M510 460L490 520L500 550" stroke-width="4.6"/><path d="M810 150L800 200L830 250L880 275L940 260" stroke-width="18"/><path d="M490 125L520 118M415 415L425 410M765 750L780 760" stroke-width="5"/></g><g transform="translate(330 970) scale(0.11669)"><path d="M285 190L290 250L300 320L330 360L400 365L470 355L530 330L590 295L640 290" stroke-width="21"/><path d="M480 235L560 242L640 258L690 300L702 360L692 440L686 490L662 500L650 480L670 440L666 380L640 322L580 292L520 272Z" fill="#16a9b8" stroke="none"/><path d="M672 420L620 450L560 480L510 500L490 540L490 600L520 660L580 700L660 725L740 725L820 710L900 680L960 655L1010 650L1020 700L1030 780L1050 830L1080 850" stroke-width="21"/><path d="M580 770L560 810L540 850L522 900L530 940" stroke-width="14"/><path d="M590 800L660 785L740 775L800 780" stroke-width="15"/><path d="M800 780L900 800L970 800L1000 820M970 800L980 860L950 910L870 945M930 930L935 960" stroke-width="4.5"/><path d="M500 940L520 960L550 950M465 910L490 912" stroke-width="5"/><path d="M800 320L850 335L900 350" stroke-width="10"/><path d="M975 300L1040 310L1050 345L1110 335" stroke-width="7"/><path d="M240 335L270 325" stroke-width="12"/><path d="M380 340L420 295" stroke-width="8"/><path d="M70 520L130 490L190 430L225 385" stroke-width="6"/><path d="M1300 40L1320 90L1350 100" stroke-width="14"/><path d="M1290 150L1300 130M780 212L800 208" stroke-width="6"/><path d="M135 712L160 716M80 985L95 987M125 988L150 986M270 1000L278 996M90 672L100 670M75 255L80 252" stroke-width="7"/></g><path d="M312 959C318 954 324 950 330 950C335 951 335 957 333 960C331 964 326 969 320 972L315 973C313 977 314 983 319 987C323 990 329 989 332 987C338 980 344 970 349 964C352 959 355 954 360 953C366 953 371 957 373 964C375 969 379 972 379 977C379 981 375 984 374.5 991C372 994 364 993 362.5 998L362.7 1003" stroke-width="2.6"/></g><path d="M331 915.5L356 914.5L368 915L373 912.5L376 913.5L394 927.5L401 939L401.5 946L400 955L400 965L401.5 973L396 980L386 985L380 989L373 991.5L355 991.5L346 990L337 989L323 980.5L317.5 975L314 967L313.5 950L314.5 939L322 933L323.5 928Z" fill="#d0dd39" fill-opacity="0.7" stroke-linejoin="round"/><rect x="496.5" y="1050.1" width="17.2" height="17.2" fill="#abbfbf"/><rect x="496.5" y="1078.7" width="17.2" height="17.2" fill="#c8d92b"/></svg>
<!-- text -->
<div class="t h" style="left:514.7px;top:53.3px;font-size:45px;font-weight:bold;color:#000;transform:scaleX(0.9696);">ГРУЗОВОЙ ТРАНСПОРТ В МОСКВЕ</div>
<div class="t n" style="left:665.5px;top:98.9px;font-size:14.4px;transform:scaleX(1.0244);"><b style="font-size:17px">300</b> тыс. грузовых автомобилей насчитывалось в Москве в <b style="font-size:17px">2013</b> г.</div>
<div class="t h" style="left:69.0px;top:184.0px;font-size:19.6px;font-weight:bold;color:#000;transform:scaleX(1.0247);">Доля грузового транспорта на магистралях</div>
<div class="t h" style="left:69.0px;top:207.4px;font-size:19.6px;font-weight:bold;color:#000;transform:scaleX(1.0144);">в общем автомобильном потоке</div>
<div class="t h" style="left:603.2px;top:184.0px;font-size:19.6px;font-weight:bold;color:#000;transform:scaleX(1.0164);">Доля выбросов грузового транспорта в выбросах автопарка</div>
<div class="t h" style="left:1324.7px;top:184.0px;font-size:19.6px;font-weight:bold;color:#000;transform:scaleX(1.0286);">Динамика обновления грузового транспорта в Москве</div>
<div class="t h" style="left:217.2px;top:742.8px;font-size:19.6px;font-weight:bold;color:#000;transform:scaleX(1.0225);">Новые ограничения движения грузового транспорта с 1 января 2015 г.</div>
<div class="t h" style="left:1193.6px;top:742.4px;font-size:19.6px;font-weight:bold;color:#000;transform:scaleX(1.0294);">Создание парковок для грузового транспорта</div>
<div class="t n" style="left:163.1px;top:280.3px;font-size:14.2px;transform:scaleX(0.9930);">5 – 25%</div>
<div class="t n" style="left:271.7px;top:280.3px;font-size:14.2px;transform:scaleX(0.9735);">1 – 5%</div>
<div class="t n" style="left:376.4px;top:280.3px;font-size:14.2px;transform:scaleX(0.9938);">0 – 1%</div>
<div class="t n" style="left:193.2px;top:448.6px;font-size:14.3px;">– МКАД</div>
<div class="t n" style="left:193.2px;top:480.7px;font-size:14.3px;transform:scaleX(0.9942);">– Радиальные магистрали</div>
<div class="t n" style="left:193.2px;top:512.9px;font-size:14.3px;">– Улицы районного значения</div>
<div class="t n" style="left:82.9px;top:591.7px;font-size:14.3px;transform:scaleX(1.0311);"><b style="font-size:17px">55%</b> грузовиков оборудованы дизельными двигателями</div>
<div class="t n" style="left:82.9px;top:632.1px;font-size:14.3px;transform:scaleX(1.0160);">Дизельные двигатели выбрасывают в атмосферу в <b style="font-size:17px">100</b> раз</div>
<div class="t n" style="left:82.9px;top:649.6px;font-size:14.3px;transform:scaleX(0.9974);">больше взвешенных частиц, чем бензиновые</div>
<div class="t n" style="left:610.6px;top:512.3px;font-size:13px;">3%</div>
<div class="t n" style="left:631.8px;top:522.1px;font-size:13px;">1%</div>
<div class="t n" style="left:654.8px;top:511.3px;font-size:13px;">7%</div>
<div class="t n" style="left:675.3px;top:487.8px;font-size:13px;">10%</div>
<div class="t n" style="left:735.7px;top:512.3px;font-size:13px;">2%</div>
<div class="t n" style="left:756.9px;top:522.1px;font-size:13px;">1%</div>
<div class="t n" style="left:779.9px;top:511.3px;font-size:13px;">2%</div>
<div class="t n" style="left:804.1px;top:487.8px;font-size:13px;">9%</div>
<div class="t n" style="left:858.3px;top:402.2px;font-size:13px;">35%</div>
<div class="t n" style="left:879.1px;top:441.7px;font-size:13px;">28%</div>
<div class="t n" style="left:901.1px;top:351.0px;font-size:13px;">42%</div>
<div class="t n" style="left:926.9px;top:300.4px;font-size:13px;">57%</div>
<div class="t n" style="left:981.7px;top:457.2px;font-size:13px;">21%</div>
<div class="t n" style="left:1002.9px;top:474.2px;font-size:13px;">18%</div>
<div class="t n" style="left:1025.9px;top:351.0px;font-size:13px;">40%</div>
<div class="t n" style="left:1051.4px;top:323.8px;font-size:13px;">50%</div>
<div class="t n" style="left:1105.4px;top:457.2px;font-size:13px;">22%</div>
<div class="t n" style="left:1127.4px;top:479.6px;font-size:13px;">17%</div>
<div class="t n" style="left:1151.4px;top:402.2px;font-size:13px;">35%</div>
<div class="t n" style="left:1178.6px;top:323.8px;font-size:13px;">52%</div>
<div class="t" style="left:612.1px;top:326.9px;font-size:9.5px;color:#d9f4f6;transform:scaleX(0.9474);">NO</div>
<div class="t n" style="left:635.9px;top:256.8px;font-size:13px;transform:scaleX(1.0045);">– моноксид углерода (угарный газ)</div>
<div class="t n" style="left:635.9px;top:291.5px;font-size:13px;transform:scaleX(0.9951);">– летучие органические вещества</div>
<div class="t n" style="left:635.9px;top:325.9px;font-size:13px;transform:scaleX(1.0023);">– оксиды азота</div>
<div class="t n" style="left:635.9px;top:355.8px;font-size:13px;transform:scaleX(0.9774);">– взвешенные частицы</div>
<div class="t n" style="left:623.0px;top:559.0px;font-size:14px;font-weight:bold;transform:scaleX(0.9956);">Садовое</div>
<div class="t n" style="left:628.0px;top:576.0px;font-size:14px;font-weight:bold;transform:scaleX(1.0063);">кольцо</div>
<div class="t n" style="left:765.5px;top:560.1px;font-size:14px;font-weight:bold;transform:scaleX(1.0329);">ТТК</div>
<div class="t n" style="left:879.8px;top:560.7px;font-size:14px;font-weight:bold;transform:scaleX(1.0536);">МКАД</div>
<div class="t n" style="left:987.5px;top:561.8px;font-size:14px;font-weight:bold;">Радиальные</div>
<div class="t n" style="left:991.0px;top:579.1px;font-size:14px;font-weight:bold;">магистрали</div>
<div class="t n" style="left:1130.8px;top:560.4px;font-size:14px;font-weight:bold;transform:scaleX(1.0116);">В целом</div>
<div class="t n" style="left:1125.0px;top:577.8px;font-size:14px;font-weight:bold;transform:scaleX(1.0166);">по городу</div>
<div class="t n" style="left:594.3px;top:631.6px;font-size:14.3px;transform:scaleX(1.0241);">Переход грузового транспорта на экологический класс <b style="font-size:17px">«Евро 2»</b> и выше позволит снизить</div>
<div class="t n" style="left:594.3px;top:649.3px;font-size:14.3px;transform:scaleX(1.0088);">объемы выбросов вредных веществ</div>
<div class="t n" style="left:1632.8px;top:273.8px;font-size:14.3px;">79%</div>
<div class="t n" style="left:1479.3px;top:290.1px;font-size:14.3px;">20%</div>
<div class="t n" style="left:1381.6px;top:306.2px;font-size:14.3px;">1%</div>
<div class="t n" style="left:1568.9px;top:347.3px;font-size:14.3px;">47%</div>
<div class="t n" style="left:1475.4px;top:363.6px;font-size:14.3px;">19%</div>
<div class="t n" style="left:1471.4px;top:379.7px;font-size:14.3px;">18%</div>
<div class="t n" style="left:1463.6px;top:395.8px;font-size:14.3px;">16%</div>
<div class="t n" style="left:1558.3px;top:430.3px;font-size:14.3px;">42%</div>
<div class="t n" style="left:1462.2px;top:446.3px;font-size:14.3px;">16%</div>
<div class="t n" style="left:1472.4px;top:462.4px;font-size:14.3px;">19%</div>
<div class="t n" style="left:1481.3px;top:478.5px;font-size:14.3px;">21%</div>
<div class="t n" style="left:1381.6px;top:494.8px;font-size:14.3px;">1%</div>
<div class="t n" style="left:1548.5px;top:525.7px;font-size:14.3px;">38%</div>
<div class="t n" style="left:1456.2px;top:542.8px;font-size:14.3px;">14%</div>
<div class="t n" style="left:1479.3px;top:558.9px;font-size:14.3px;">21%</div>
<div class="t n" style="left:1487.2px;top:575.2px;font-size:14.3px;">24%</div>
<div class="t n" style="left:1385.2px;top:591.3px;font-size:14.3px;">3%</div>
<div class="t" style="left:1328.8px;top:291.9px;font-size:14px;color:#eef1f3;transform:scaleX(0.9950);">2008</div>
<div class="t" style="left:1328.8px;top:372.4px;font-size:14px;color:#eef1f3;transform:scaleX(1.0296);">2011</div>
<div class="t" style="left:1328.8px;top:464.3px;font-size:14px;color:#eef1f3;transform:scaleX(0.9950);">2012</div>
<div class="t" style="left:1328.8px;top:560.5px;font-size:14px;color:#eef1f3;transform:scaleX(0.9950);">2013</div>
<div class="t n" style="left:1698.7px;top:458.9px;font-size:14.3px;transform:scaleX(1.0064);">– Евро 1 и ниже</div>
<div class="t n" style="left:1698.7px;top:487.4px;font-size:14.3px;transform:scaleX(0.9720);">– Евро 2</div>
<div class="t n" style="left:1698.7px;top:515.7px;font-size:14.3px;transform:scaleX(0.9720);">– Евро 3</div>
<div class="t n" style="left:1698.7px;top:544.3px;font-size:14.3px;transform:scaleX(0.9720);">– Евро 4</div>
<div class="t n" style="left:1698.7px;top:572.9px;font-size:14.3px;transform:scaleX(0.9720);">– Евро 5</div>
<div class="t" style="left:1265.1px;top:803.6px;font-size:15px;color:#f2fbfc;transform:scaleX(1.0504);">На сегодняшний день</div>
<div class="t" style="left:1500.5px;top:811.6px;font-size:17.6px;font-weight:bold;color:#fff;transform:scaleX(0.9705);">15</div>
<div class="t" style="left:1265.5px;top:840.2px;font-size:15px;color:#fbfde9;transform:scaleX(1.0516);">Предполагаемое число</div>
<div class="t" style="left:1499.7px;top:847.8px;font-size:17.6px;font-weight:bold;color:#fff;transform:scaleX(0.9960);">50</div>
<div class="t n" style="left:1261.4px;top:889.1px;font-size:14.3px;transform:scaleX(1.0208);">Лимит на остановку грузовиков в центре Москвы – <b style="font-size:17px">30</b> мин.</div>
<div class="t n" style="left:1259.4px;top:931.1px;font-size:14.3px;transform:scaleX(1.0295);">Стоимость парковки</div>
<div class="t n" style="left:1247.6px;top:972.0px;font-size:14.3px;transform:scaleX(1.0178);"><b style="font-size:17px">40</b> руб. в пределах Бульварного кольца</div>
<div class="t n" style="left:1247.6px;top:1002.1px;font-size:14.3px;transform:scaleX(1.0182);"><b style="font-size:17px">30</b> руб. за пределами Бульварного кольца</div>
<div class="t n" style="left:1294.1px;top:1058.7px;font-size:14.3px;transform:scaleX(0.9907);">При превышении лимита</div>
<div class="t n" style="left:1275.5px;top:1101.1px;font-size:14.3px;transform:scaleX(1.0071);"><b style="font-size:17px">1000</b> руб./час с поминутной тарификацией</div>
<div class="t n" style="left:47.9px;top:1172.0px;font-size:13px;transform:scaleX(1.0149);">Агентство городских новостей «Москва»</div>
<div class="t n" style="left:535.3px;top:865.8px;font-size:14.3px;transform:scaleX(1.0168);">Запрет на въезд на МКАД и в пределы МКАД грузовых автомобилей с</div>
<div class="t n" style="left:535.3px;top:887.3px;font-size:14.3px;transform:scaleX(1.0261);">экологическим классом ниже <b style="font-size:17px">«Евро 2»</b></div>
<div class="t n" style="left:535.3px;top:938.2px;font-size:14.3px;transform:scaleX(1.0103);">Запрет на въезд на ТТК и в пределы ТТК грузовых автомобилей с</div>
<div class="t n" style="left:535.3px;top:959.6px;font-size:14.3px;transform:scaleX(1.0261);">экологическим классом ниже <b style="font-size:17px">«Евро 3»</b></div>
<div class="t n" style="left:518.3px;top:1048.3px;font-size:14.3px;transform:scaleX(0.9756);">– Евро 2</div>
<div class="t n" style="left:518.3px;top:1076.5px;font-size:14.3px;transform:scaleX(0.9756);">– Евро 3</div>
</div>
</body>
</html>
